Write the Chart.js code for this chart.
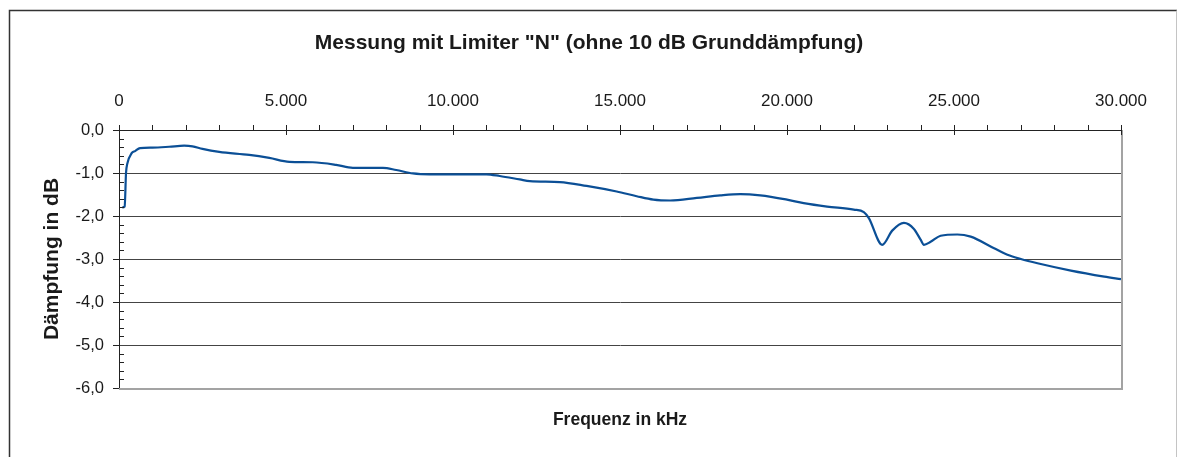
<!DOCTYPE html>
<html>
<head>
<meta charset="utf-8">
<title>Messung mit Limiter N</title>
<script src="https://cdn.jsdelivr.net/npm/chart.js@4/dist/chart.umd.min.js"></script>
<style>
    html, body { margin: 0; padding: 0; background: #ffffff; }
    #chart { display: block; }
</style>
</head>
<body>
<canvas id="chart" width="1178" height="457"></canvas>
<script>
const freqHz = [
    100, 170, 210, 250, 380, 480, 630, 1000, 1500, 1950,
    2200, 2500, 3000, 3900, 4500, 5100, 5800, 6500, 7000, 7900,
    8300, 8800, 9300, 10000, 11000, 11400, 12000, 12300, 13200, 14000,
    14900, 15500, 16000, 16500, 17300, 18000, 18600, 19200, 20000, 20500,
    21200, 22000, 22300, 22450, 22850, 23150, 23500, 23800, 24000, 24100,
    24300, 24600, 25100, 25500, 26200, 26600, 27000, 27500, 28500, 29500,
    30000
];
const dampingDb = [
    -1.80, -1.78, -1.00, -0.78, -0.54, -0.49, -0.42, -0.41, -0.39, -0.365,
    -0.38, -0.44, -0.51, -0.58, -0.65, -0.74, -0.75, -0.81, -0.88, -0.88,
    -0.93, -1.01, -1.03, -1.03, -1.03, -1.07, -1.15, -1.19, -1.21, -1.30,
    -1.43, -1.54, -1.62, -1.64, -1.58, -1.52, -1.49, -1.52, -1.62, -1.70,
    -1.78, -1.85, -1.91, -2.05, -2.67, -2.34, -2.16, -2.30, -2.55, -2.67,
    -2.60, -2.46, -2.43, -2.48, -2.75, -2.90, -3.00, -3.10, -3.27, -3.41,
    -3.47
];

const chartTitle = 'Messung mit Limiter "N" (ohne 10 dB Grunddämpfung)';
const xTitle = 'Frequenz in kHz';
const yTitle = 'Dämpfung in dB';
const xMin = 0, xMax = 30000, xMajor = 5000, xMinor = 1000;
const yMin = -6, yMax = 0, yMajor = 1, yMinor = 0.2;

const FONT = "'Liberation Sans', Arial, sans-serif";
const TEXT = '#1a1a1a';

function formatThousands(v) {
    return String(v).replace(/\B(?=(\d{3})+(?!\d))/g, '.');
}

function formatDb(v) {
    return (Math.abs(v) < 1e-9 ? 0 : v).toFixed(1).replace('.', ',');
}

// outer frame, tick marks and the grey right/bottom edge of the plot area
const framePlugin = {
    id: 'frame',
    beforeDraw(chart) {
        const ctx = chart.ctx;
        ctx.save();
        ctx.strokeStyle = '#333333';
        ctx.lineWidth = 1.5;
        ctx.beginPath();
        ctx.moveTo(9.5, chart.height + 5);
        ctx.lineTo(9.5, 10.5);
        ctx.lineTo(1177, 10.5);
        ctx.stroke();
        ctx.strokeStyle = '#c4c4c4';
        ctx.lineWidth = 1;
        ctx.beginPath();
        ctx.moveTo(1176.5, 10.5);
        ctx.lineTo(1176.5, chart.height + 5);
        ctx.stroke();
        ctx.restore();
    },
    afterDraw(chart) {
        const ctx = chart.ctx;
        const x = chart.scales.x;
        const y = chart.scales.y;
        const area = chart.chartArea;
        ctx.save();

        // grey edge on the right and bottom
        ctx.strokeStyle = '#a3a3a3';
        ctx.lineWidth = 2;
        ctx.beginPath();
        ctx.moveTo(area.right + 1, area.top);
        ctx.lineTo(area.right + 1, area.bottom + 1);
        ctx.lineTo(area.left, area.bottom + 1);
        ctx.stroke();

        ctx.strokeStyle = '#222222';
        ctx.lineWidth = 1;
        ctx.beginPath();
        for (let v = xMin; v <= xMax; v += xMinor) {
            const px = Math.round(x.getPixelForValue(v)) + 0.5;
            const major = v % xMajor === 0;
            ctx.moveTo(px, area.top - 5);
            ctx.lineTo(px, major ? area.top + 5 : area.top);
        }
        const steps = Math.round((yMax - yMin) / yMinor);
        for (let i = 0; i <= steps; i++) {
            const v = yMax - i * yMinor;
            const py = Math.round(y.getPixelForValue(v)) + 0.5;
            const major = i % Math.round(yMajor / yMinor) === 0;
            if (major) {
                ctx.moveTo(area.left - 6, py);
                ctx.lineTo(area.left, py);
            } else {
                ctx.moveTo(area.left, py);
                ctx.lineTo(area.left + 5, py);
            }
        }
        ctx.stroke();
        ctx.restore();
    }
};

const points = freqHz.map((f, i) => ({ x: f, y: dampingDb[i] }));

new Chart(document.getElementById('chart'), {
    type: 'line',
    data: {
        datasets: [{
            label: 'Dämpfung',
            data: points,
            xAxisID: 'x',
            yAxisID: 'y',
            borderColor: '#0b4f96',
            borderWidth: 2.2,
            pointRadius: 0,
            fill: false,
            cubicInterpolationMode: 'monotone'
        }]
    },
    options: {
        responsive: false,
        animation: false,
        devicePixelRatio: 1,
        layout: { padding: 0 },
        plugins: {
            legend: { display: false },
            tooltip: { enabled: false },
            title: {
                display: true,
                text: chartTitle,
                color: TEXT,
                font: { family: FONT, size: 21, weight: 'bold', lineHeight: 1.2 },
                padding: { top: 30.5, bottom: 4.3 }
            }
        },
        scales: {
            x: {
                type: 'linear',
                position: 'top',
                min: xMin,
                max: xMax,
                afterFit(scale) { scale.height = 70; },
                ticks: {
                    stepSize: xMajor,
                    padding: 18,
                    color: TEXT,
                    maxRotation: 0,
                    font: { family: FONT, size: 17 },
                    callback: v => formatThousands(v)
                },
                grid: { display: false, drawTicks: false },
                border: { display: true, color: '#222222', width: 1 }
            },
            x2: {
                type: 'linear',
                axis: 'x',
                position: 'bottom',
                min: xMin,
                max: xMax,
                afterFit(scale) { scale.height = 69; },
                ticks: { display: false },
                grid: { display: false, drawTicks: false },
                border: { display: false },
                title: {
                    display: true,
                    text: xTitle,
                    color: TEXT,
                    font: { family: FONT, size: 17.5, weight: 'bold', lineHeight: 1.2 },
                    padding: { top: 0, bottom: 26 }
                }
            },
            y: {
                type: 'linear',
                position: 'left',
                min: yMin,
                max: yMax,
                afterFit(scale) { scale.width = 119; },
                ticks: {
                    stepSize: yMajor,
                    padding: 15,
                    color: TEXT,
                    font: { family: FONT, size: 16.5 },
                    callback: v => formatDb(v)
                },
                grid: {
                    drawTicks: false,
                    lineWidth: 1,
                    color: c => {
                        const v = c.tick ? c.tick.value : null;
                        if (v === yMax) return '#222222';
                        if (v === yMin) return 'rgba(0,0,0,0)';
                        return '#444444';
                    }
                },
                border: { display: true, color: '#222222', width: 1 },
                title: {
                    display: true,
                    text: yTitle,
                    color: TEXT,
                    font: { family: FONT, size: 21, weight: 'bold', lineHeight: 1.2 },
                    padding: { top: 40, bottom: 0 }
                }
            },
            // empty margin on the right of the plot
            yRight: {
                type: 'linear',
                axis: 'y',
                position: 'right',
                min: yMin,
                max: yMax,
                afterFit(scale) { scale.width = 57; },
                ticks: { display: false },
                grid: { display: false, drawTicks: false },
                border: { display: false }
            }
        }
    },
    plugins: [framePlugin]
});
</script>
</body>
</html>
